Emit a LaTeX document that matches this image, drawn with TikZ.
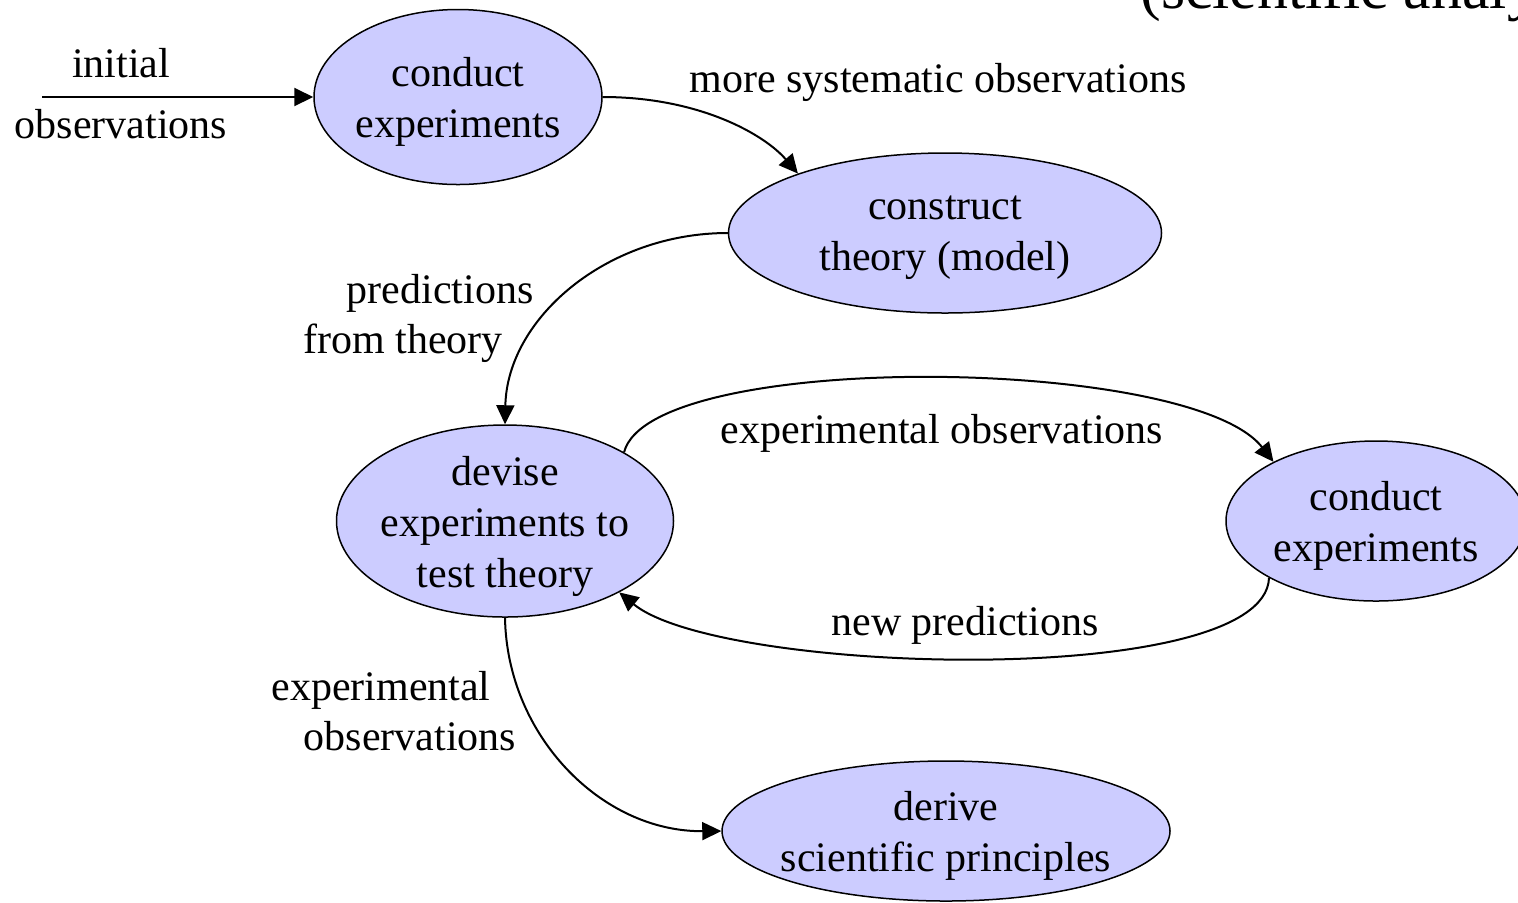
\documentclass[tikz,border=0pt]{standalone}
\usepackage{fontspec}
\setmainfont{Liberation Serif}
\usetikzlibrary{arrows.meta,shapes.geometric}
\definecolor{stagefill}{RGB}{204,204,255}
\tikzset{
  stage/.style={ellipse, draw=black, line width=0.75pt, fill=stagefill, inner sep=0pt},
  stagetext/.style={align=center, inner sep=0pt, yshift=-2.5pt, font=\fontsize{21}{25.5}\selectfont},
  flow/.style={line width=1pt, -{Triangle[length=9.5pt,width=9pt]}},
  lbl/.style={anchor=base, inner sep=0pt, font=\fontsize{21}{25.5}\selectfont},
}
\begin{document}
\begin{tikzpicture}[x=0.5pt, y=-0.5pt]
\useasboundingbox (0,0) rectangle (1518,902);

% heading, partly above the page
\node[anchor=base west, inner sep=0pt, font=\fontsize{31}{36}\selectfont] (heading) at (1140,8) {(scientific analysis)};

% stages
\node[stage, minimum width=144pt, minimum height=87.5pt,
      label={[stagetext]center:conduct\\experiments}] (c1) at (458,97) {};
\node[stage, minimum width=216.5pt, minimum height=80pt,
      label={[stagetext]center:construct\\theory (model)}] (c2) at (945,233) {};
\node[stage, minimum width=168.5pt, minimum height=96pt,
      label={[stagetext]center:devise\\experiments to\\test theory}] (c3) at (505,521) {};
\node[stage, minimum width=150pt, minimum height=80pt,
      label={[stagetext]center:conduct\\experiments}] (c4) at (1376,521) {};
\node[stage, minimum width=224pt, minimum height=70pt,
      label={[stagetext]center:derive\\scientific principles}] (c5) at (946,831) {};

% connectors
\coordinate (src) at (42,97);
\draw[flow] (src) -- (c1.west);
\draw[flow] (c1.east) .. controls (700,97) and (765,135) .. (c2.158.9);
\draw[flow] (c2.west) .. controls (606,233) and (507,319) .. (c3.north);
\draw[flow] (c3.30.3) .. controls (650,350) and (1190,355) .. (c4.150.4);
\draw[flow] (c4.208.7) .. controls (1265,690) and (720,675) .. (c3.328.7);
\draw[flow] (c3.south) .. controls (507,736) and (602,832) .. (c5.west);

% connector labels
\node[lbl] (l0a) at (121,77) {initial};
\node[lbl] (l0b) at (121,138) {observations};
\node[lbl] (l1) at (938,92) {more systematic observations};
\node[lbl] (l2a) at (440,303) {predictions};
\node[lbl] (l2b) at (403,353) {from theory};
\node[lbl] (l3) at (942,443) {experimental observations};
\node[lbl] (l4) at (965,635) {new predictions};
\node[lbl] (l5a) at (381,700) {experimental};
\node[lbl] (l5b) at (410,750) {observations};
\end{tikzpicture}
\end{document}
